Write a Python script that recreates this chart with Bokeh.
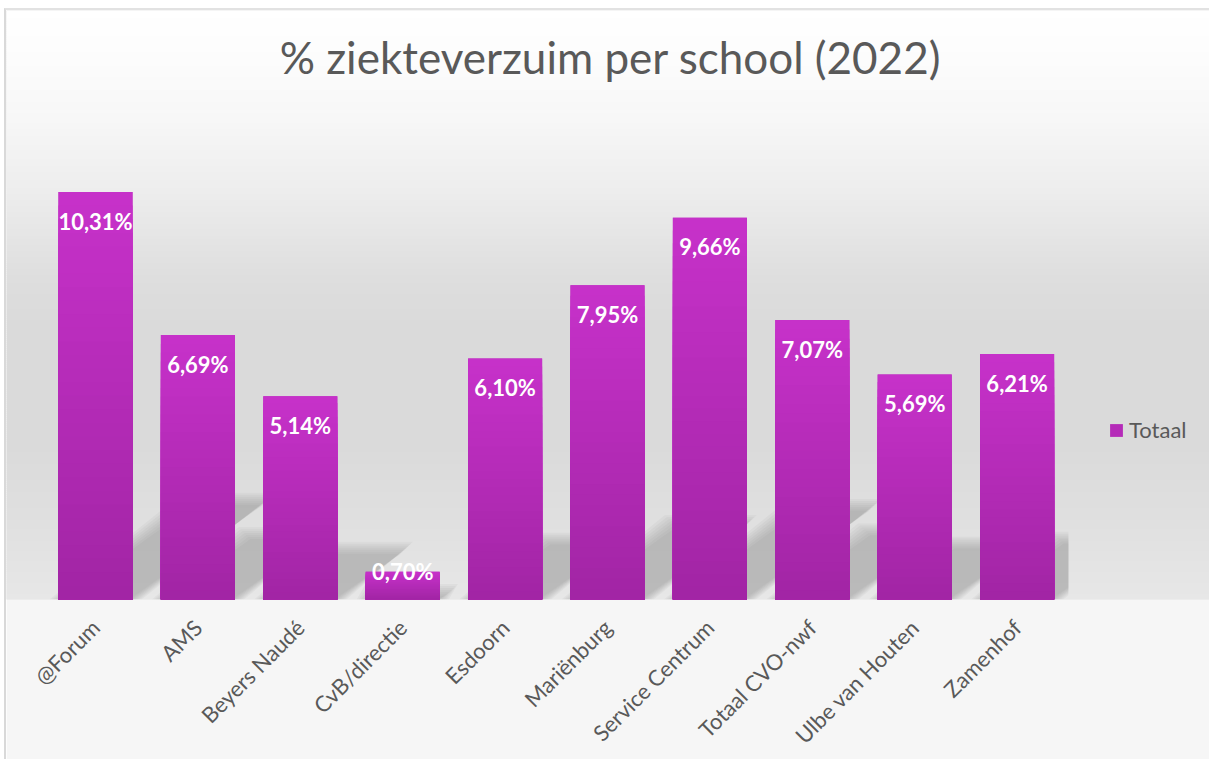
import numpy as np
from math import pi
from bokeh.plotting import figure
from bokeh.models import Range1d, FixedTicker, Label, Legend, LegendItem, ColumnDataSource
from bokeh.core.properties import value
from bokeh.embed import file_html
from bokeh.resources import INLINE

# ---------------- data ----------------
categories = ["@Forum", "AMS", "Beyers Naudé", "CvB/directie", "Esdoorn",
              "Mariënburg", "Service Centrum", "Totaal CVO-nwf",
              "Ulbe van Houten", "Zamenhof"]
values = [10.31, 6.69, 5.14, 0.70, 6.10, 7.95, 9.66, 7.07, 5.69, 6.21]
series_name = "Totaal"
title_text = "% ziekteverzuim per school (2022)"

# ---------------- layout constants ----------------
W, H = 1205, 751
BOTTOM = 154
FRAME_H = H - BOTTOM
PX_X = 102.4              # pixels per category
FIRST_CENTER_PX = 89.0    # first category centre from figure left
PX_Y = 40.06              # pixels per percent
x_start = -FIRST_CENTER_PX / PX_X
x_end = x_start + W / PX_X
y_end = FRAME_H / PX_Y
n = len(categories)
xs = np.arange(n, dtype=float)
vals = np.array(values)
BAR_W = 0.723
FONT = "Lato"
TXT = "#595959"

p = figure(width=W, height=H, output_backend="svg", toolbar_location=None,
           x_range=Range1d(x_start, x_end), y_range=Range1d(0, y_end),
           y_axis_location=None, min_border_left=0, min_border_right=0,
           min_border_top=0, min_border_bottom=BOTTOM)
p.title = None
p.outline_line_color = None
p.grid.visible = False
p.background_fill_color = "#e6e6e6"
p.border_fill_color = "#f6f6f6"
p.margin = (8, 0, 0, 4)
p.styles = {"border-left": "2px solid #d9d9d9", "border-top": "2px solid #e2e2e2"}

# ---------------- background gradient ----------------
stops_px = [0, 50, 110, 190, 270, 320, 440, 510, FRAME_H]
stops_g = [255, 252, 247, 236, 222, 218, 218, 223, 231]
rows = np.arange(0, FRAME_H, 2)
g = np.interp(rows + 1, stops_px, stops_g).round().astype(int)
p.quad(left=x_start, right=x_end,
       top=(FRAME_H - rows) / PX_Y, bottom=np.maximum(FRAME_H - rows - 3, 0) / PX_Y,
       fill_color=["#%02x%02x%02x" % (v, v, v) for v in g], line_color=None)

# ---------------- shadows ----------------
def clip_right(px, py, xm):
    out_x, out_y = [], []
    m = len(px)
    for i in range(m):
        x1, y1 = px[i], py[i]
        x2, y2 = px[(i + 1) % m], py[(i + 1) % m]
        in1, in2 = x1 <= xm, x2 <= xm
        if in1:
            out_x.append(x1); out_y.append(y1)
        if in1 != in2:
            t = (xm - x1) / (x2 - x1)
            out_x.append(xm); out_y.append(y1 + t * (y2 - y1))
    return out_x, out_y

K_SH, SLOPE = 0.24, 1.35
xmax = n - 0.5
for e in [-3, -1, 1, 3, 5, 7, 9]:
    ex, ey = e / PX_X, e / PX_Y
    sx, sy = [], []
    for xc, v in zip(xs, vals):
        dy = K_SH * v
        dx = SLOPE * dy * PX_Y / PX_X
        x0, x1 = xc - BAR_W / 2, xc + BAR_W / 2
        px = [x0 - ex, x1 + ex, x1 + dx + ex, x0 + dx - ex]
        py = [0, 0, max(dy + ey, 0), max(dy + ey, 0)]
        cx, cy = clip_right(px, py, xmax)
        sx.append(cx); sy.append(cy)
    p.patches(sx, sy, fill_color="#7a7a7a", fill_alpha=0.07, line_color=None)

# ---------------- bars (vertical gradient) ----------------
base = p.vbar(x=xs, top=vals, width=BAR_W, fill_color="#b52bb8", line_color=None)
N = 30
top_c = np.array([0xc6, 0x31, 0xc9])
bot_c = np.array([0xa2, 0x25, 0xa5])
bx, bt, bc = [], [], []
for j in range(N):
    frac = 1 - j / N
    c = (top_c + (bot_c - top_c) * (j / (N - 1))).round().astype(int)
    for xc, v in zip(xs, vals):
        bx.append(xc); bt.append(v * frac); bc.append("#%02x%02x%02x" % tuple(c))
p.vbar(x=bx, top=bt, width=BAR_W, fill_color=bc, line_color=None)

# ---------------- data labels ----------------
labels = [f"{v:.2f}".replace(".", ",") + "%" for v in values]
offs = [29 if v * PX_Y > 50 else 0 for v in values]
src = ColumnDataSource(dict(x=xs, y=vals, t=labels, o=offs))
p.text(x="x", y="y", text="t", y_offset="o", source=src, text_align="center",
       text_baseline="alphabetic", text_color="white", text_font=value(FONT),
       text_font_style="bold", text_font_size="22px")

# ---------------- axis ----------------
ax = p.xaxis[0]
ax.ticker = FixedTicker(ticks=list(range(n)), minor_ticks=[])
ax.major_label_overrides = {i: c for i, c in enumerate(categories)}
ax.major_label_orientation = pi / 4
ax.axis_line_color = None
ax.major_tick_line_color = None
ax.minor_tick_line_color = None
ax.major_label_standoff = 18
ax.major_label_text_font = FONT
ax.major_label_text_font_size = "22px"
ax.major_label_text_color = TXT

# ---------------- title ----------------
p.add_layout(Label(x=604, y=FRAME_H - 54, x_units="screen", y_units="screen",
                   text=title_text, text_align="center", text_baseline="alphabetic",
                   text_font=FONT, text_font_size="44px", text_color=TXT))

# ---------------- legend ----------------
leg = Legend(items=[LegendItem(label=series_name, renderers=[base])],
             location=(1102, 156), orientation="vertical",
             glyph_width=16, glyph_height=16, label_standoff=5, padding=0, margin=0,
             label_text_font=FONT, label_text_font_size="22px", label_text_color=TXT,
             background_fill_alpha=0, border_line_color=None)
p.add_layout(leg)

open("out.html", "w").write(file_html(p, INLINE))
